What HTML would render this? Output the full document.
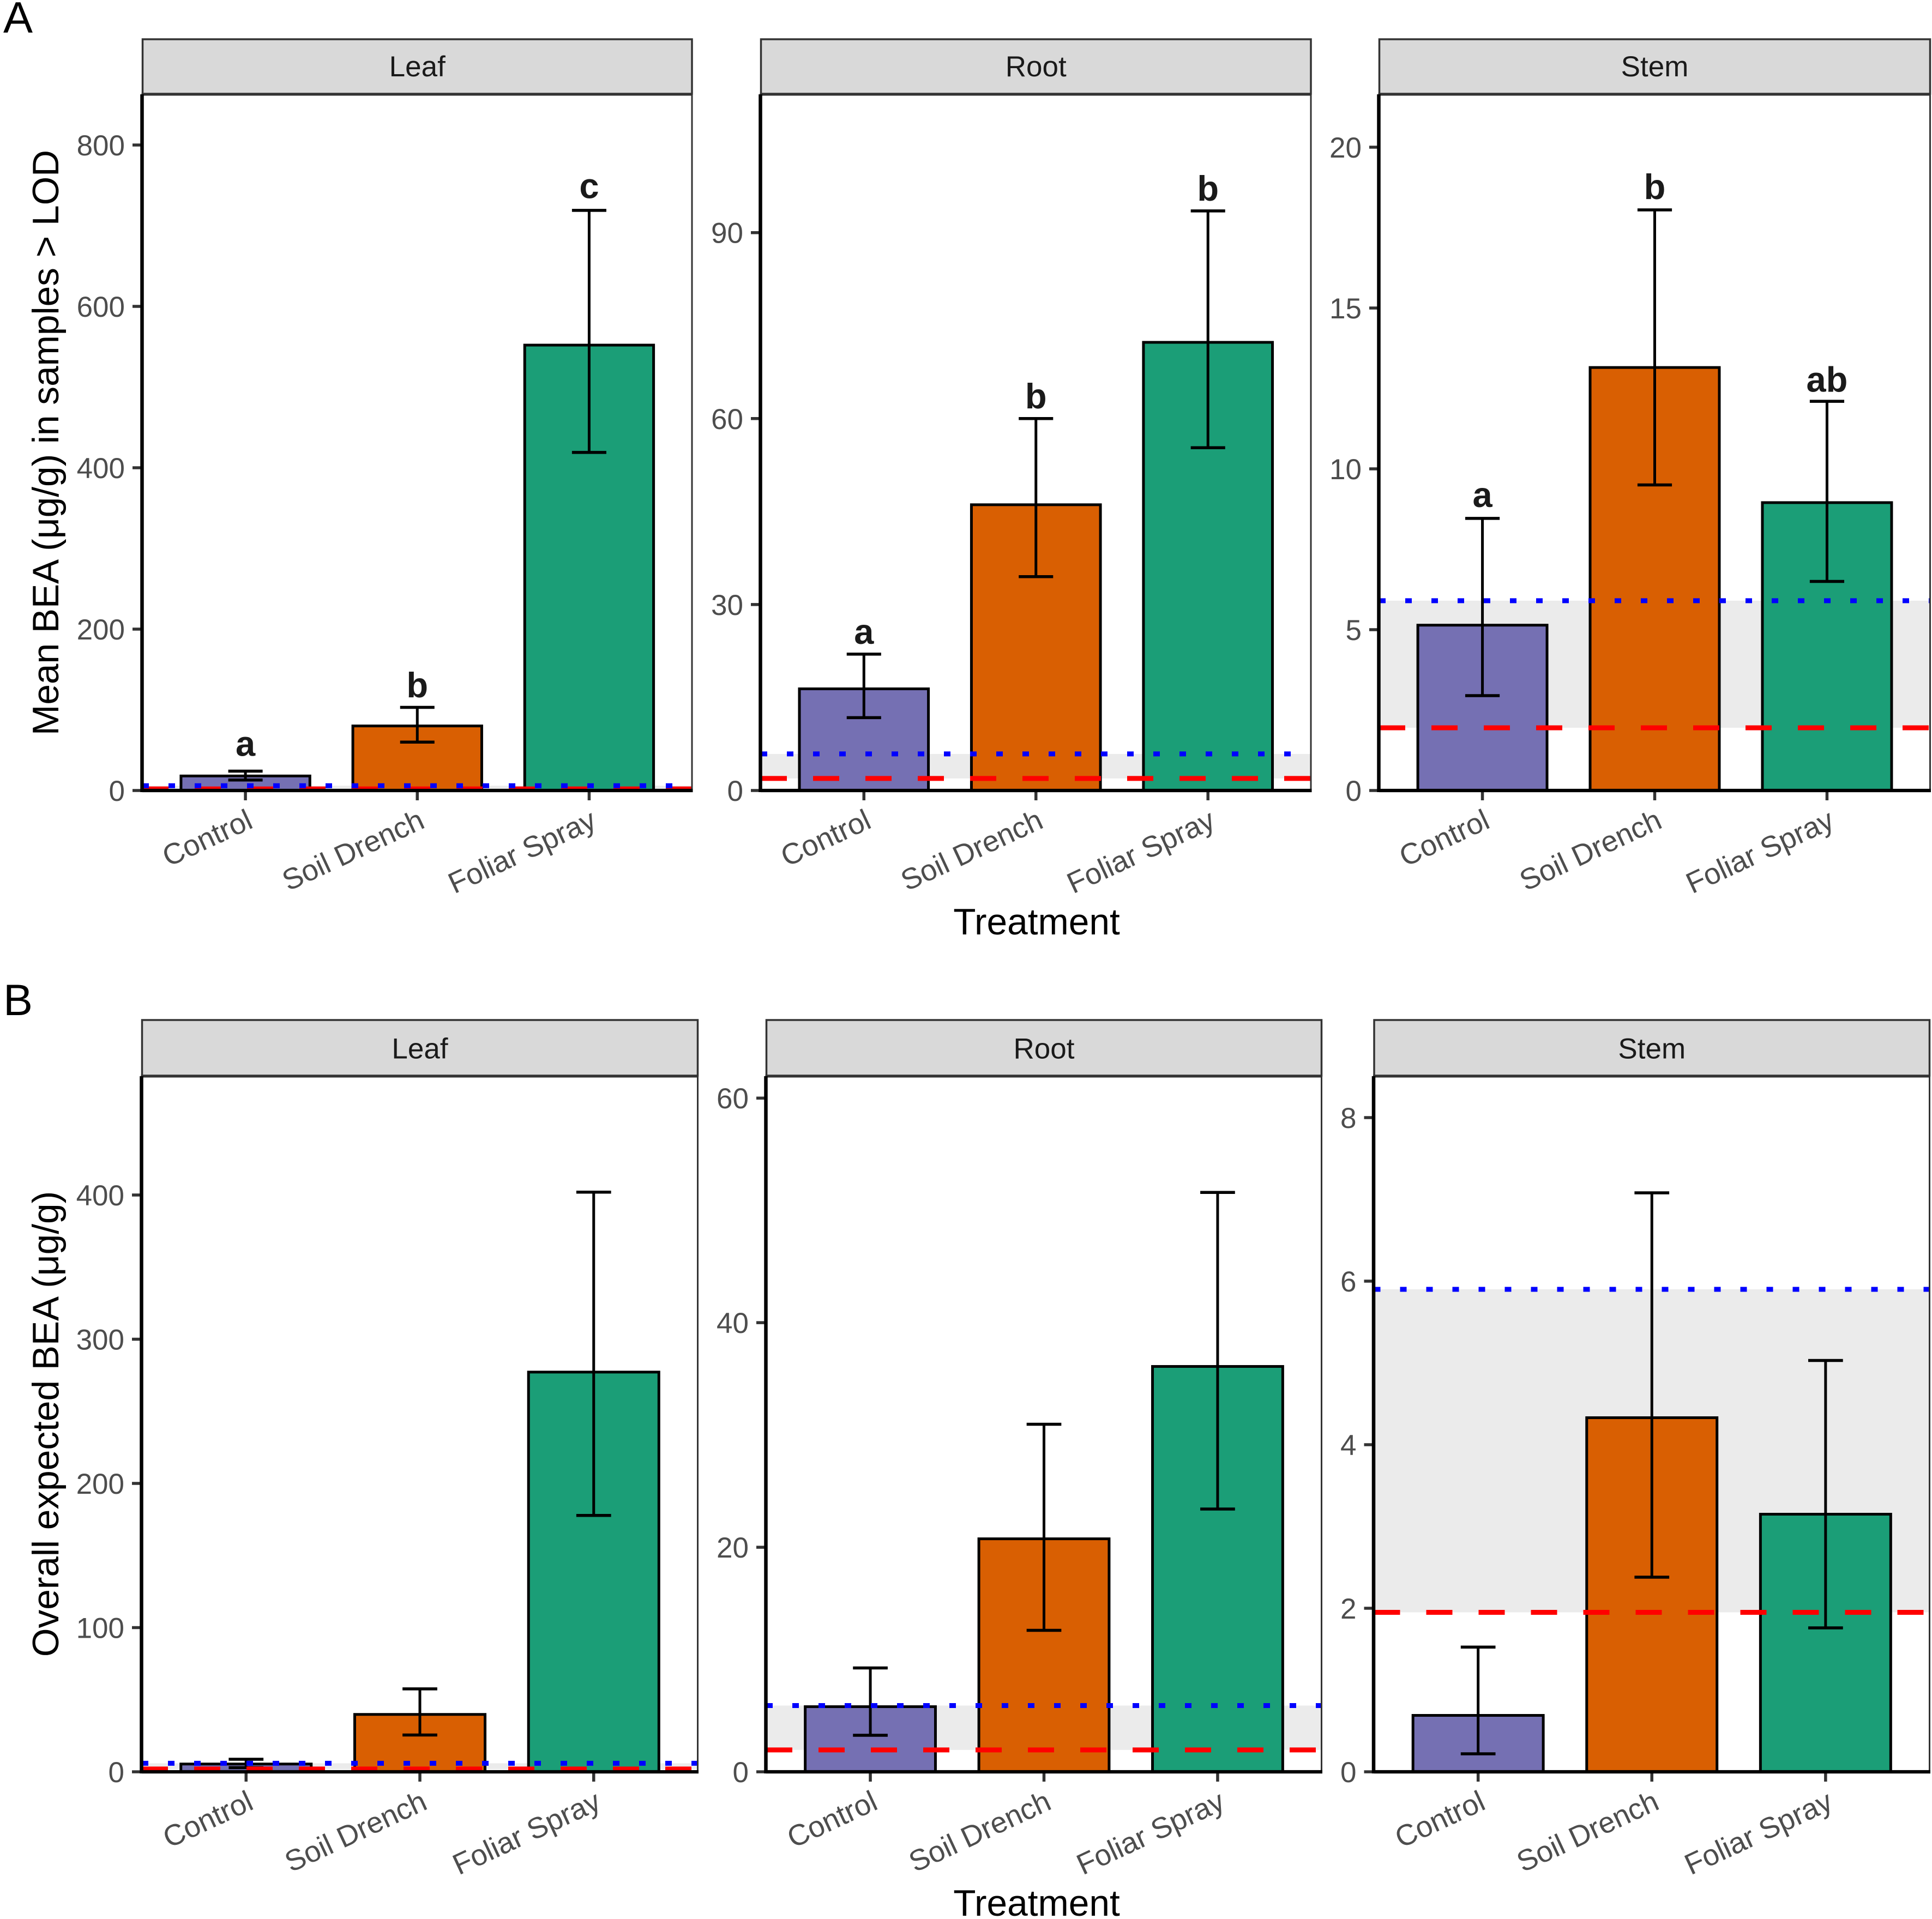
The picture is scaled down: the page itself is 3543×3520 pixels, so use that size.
<!DOCTYPE html>
<html lang="en">
<head>
<meta charset="utf-8">
<title>BEA concentration by treatment and tissue</title>
<style>
  html, body { margin: 0; padding: 0; background: #ffffff; }
  svg { display: block; font-family: "Liberation Sans", Arial, sans-serif; }
</style>
</head>
<body>
<svg id="figure" xmlns="http://www.w3.org/2000/svg" width="3543" height="3520" viewBox="0 0 3543 3520">
  <rect x="0" y="0" width="3543" height="3520" fill="#ffffff"/>
  <text x="6" y="60" font-size="81" fill="#000000">A</text>
  <text x="6" y="1862" font-size="81" fill="#000000">B</text>
  <text transform="translate(107,812) rotate(-90)" text-anchor="middle" font-size="67.6" fill="#000000">Mean BEA (μg/g) in samples &gt; LOD</text>
  <text transform="translate(107,2612) rotate(-90)" text-anchor="middle" font-size="67.6" fill="#000000">Overall expected BEA (μg/g)</text>
  <text x="1901" y="1714" text-anchor="middle" font-size="67.6" fill="#000000">Treatment</text>
  <text x="1901" y="3514" text-anchor="middle" font-size="67.6" fill="#000000">Treatment</text>
  <g id="panels"></g>
</svg>
<script>
// Shared categories and reference limits
const treatments = ['Control', 'Soil Drench', 'Foliar Spray'];
const barColors = ['#7570B3', '#D95F02', '#1B9E77'];
const lowerLimit = 1.95;
const upperLimit = 5.9;

// Row A - Leaf
const leafAMeans = [18, 80, 552];
const leafAUpper = [24, 103, 719];
const leafALower = [13, 60, 419];
const leafATicks = [0, 200, 400, 600, 800];
const leafALetters = ['a', 'b', 'c'];
const leafALetterValues = [43, 115.5, 734];
const leafADomainMax = 863.5;

// Row A - Root
const rootAMeans = [16.4, 46.1, 72.3];
const rootAUpper = [22, 60, 93.5];
const rootALower = [11.75, 34.5, 55.3];
const rootATicks = [0, 30, 60, 90];
const rootALetters = ['a', 'b', 'b'];
const rootALetterValues = [23.64, 61.64, 95.14];
const rootADomainMax = 112.4;

// Row A - Stem
const stemAMeans = [5.14, 13.15, 8.95];
const stemAUpper = [8.46, 18.05, 12.1];
const stemALower = [2.95, 9.5, 6.5];
const stemATicks = [0, 5, 10, 15, 20];
const stemALetters = ['a', 'b', 'ab'];
const stemALetterValues = [8.81, 18.385, 12.4];
const stemADomainMax = 21.66;

// Row B - Leaf
const leafBMeans = [5.4, 39.8, 277.2];
const leafBUpper = [8.7, 57.5, 402];
const leafBLower = [2.9, 25.5, 177.8];
const leafBTicks = [0, 100, 200, 300, 400];
const leafBDomainMax = 482.8;

// Row B - Root
const rootBMeans = [5.8, 20.75, 36.1];
const rootBUpper = [9.25, 30.95, 51.6];
const rootBLower = [3.25, 12.6, 23.4];
const rootBTicks = [0, 20, 40, 60];
const rootBDomainMax = 62;

// Row B - Stem
const stemBMeans = [0.69, 4.33, 3.15];
const stemBUpper = [1.525, 7.08, 5.03];
const stemBLower = [0.22, 2.38, 1.76];
const stemBTicks = [0, 2, 4, 6, 8];
const stemBDomainMax = 8.513;

const NS = 'http://www.w3.org/2000/svg';
const root = document.getElementById('panels');

function make(tag, parent) {
  const el = document.createElementNS(NS, tag);
  parent.appendChild(el);
  return el;
}
function setAll(el, props) {
  for (const k in props) el.setAttribute(k, props[k]);
  return el;
}

function drawPanel(p) {
  const xUnit = (p.right - p.left) / 3.2;
  const xScale = i => p.left + (i + 0.6) * xUnit;
  const yScale = v => p.bottom - (v / p.domainMax) * (p.bottom - p.top);

  const g = make('g', root);
  
  

  // limit band
  const band = make('rect', g);
  
  
  setAll(band, { x: p.left, width: p.right - p.left, y: yScale(upperLimit), height: yScale(lowerLimit) - yScale(upperLimit), fill: '#ebebeb' });

  // bars
  p.means.forEach((v, i) => {
    const bar = make('rect', g);
    
    
    setAll(bar, { x: xScale(i) - 0.375 * xUnit, width: 0.75 * xUnit, y: yScale(v), height: yScale(0) - yScale(v), fill: barColors[i], stroke: '#000000', 'stroke-width': 5 });
  });

  // error bars
  p.means.forEach((v, i) => {
    const eg = make('g', g);
    
    
    const stem = make('line', eg);
    
    
    setAll(stem, { x1: xScale(i), x2: xScale(i), y1: yScale(p.upper[i]), y2: yScale(p.lower[i]), stroke: '#000000', 'stroke-width': 5 });
    const capTop = make('line', eg);
    
    
    setAll(capTop, { x1: xScale(i) - 0.1 * xUnit, x2: xScale(i) + 0.1 * xUnit, y1: yScale(p.upper[i]), y2: yScale(p.upper[i]), stroke: '#000000', 'stroke-width': 5.5 });
    const capBottom = make('line', eg);
    
    
    setAll(capBottom, { x1: xScale(i) - 0.1 * xUnit, x2: xScale(i) + 0.1 * xUnit, y1: yScale(p.lower[i]), y2: yScale(p.lower[i]), stroke: '#000000', 'stroke-width': 5.5 });
  });

  // limit lines
  const redLine = make('line', g);
  
  
  setAll(redLine, { x1: p.left, x2: p.right, y1: yScale(lowerLimit), y2: yScale(lowerLimit), stroke: '#ff0000', 'stroke-width': 9, 'stroke-dasharray': '48 48' });
  const blueLine = make('line', g);
  
  
  setAll(blueLine, { x1: p.left, x2: p.right, y1: yScale(upperLimit), y2: yScale(upperLimit), stroke: '#0000ff', 'stroke-width': 9, 'stroke-dasharray': '12 36' });

  // significance letters
  if (p.letters) {
    p.letters.forEach((s, i) => {
      const t = make('text', g);
      
      
      setAll(t, { x: xScale(i), y: yScale(p.letterValues[i]), 'text-anchor': 'middle', 'font-size': 65, 'font-weight': 'bold', fill: '#1a1a1a' });
      t.textContent = s;
    });
  }

  // panel border
  const border = make('rect', g);
  
  
  setAll(border, { x: p.left, y: p.top, width: p.right - p.left - 0.5, height: p.bottom - p.top, fill: 'none', stroke: '#333333', 'stroke-width': 3 });

  // strip
  const strip = make('rect', g);
  
  
  setAll(strip, { x: p.left + 0.5, y: p.stripTop, width: p.right - p.left - 1, height: p.top - p.stripTop, fill: '#d9d9d9', stroke: '#333333', 'stroke-width': 3.5 });
  const stripRule = make('line', g);
  
  
  setAll(stripRule, { x1: p.left, x2: p.right + 1, y1: p.top + 1.5, y2: p.top + 1.5, stroke: '#333333', 'stroke-width': 4 });
  const stripLabel = make('text', g);
  
  
  setAll(stripLabel, { x: (p.left + p.right) / 2, y: p.stripLabelY, 'text-anchor': 'middle', 'font-size': 53, fill: '#1a1a1a' });
  stripLabel.textContent = p.title;

  // y ticks
  p.ticks.forEach(v => {
    const tick = make('line', g);
    
    
    setAll(tick, { x1: p.left - 18, x2: p.left, y1: yScale(v), y2: yScale(v), stroke: '#333333', 'stroke-width': 5.5 });
    const label = make('text', g);
    
    
    setAll(label, { x: p.left - 32, y: yScale(v) + 19, 'text-anchor': 'end', 'font-size': 53, fill: '#4d4d4d' });
    label.textContent = String(v);
  });

  // x ticks and labels
  treatments.forEach((name, i) => {
    const tick = make('line', g);
    
    
    setAll(tick, { x1: xScale(i), x2: xScale(i), y1: p.bottom, y2: p.bottom + 18, stroke: '#333333', 'stroke-width': 5.5 });
    const label = make('text', g);
    
    
    setAll(label, { transform: 'translate(' + (xScale(i) + 16.5) + ',' + (p.bottom + 67) + ') rotate(-25)', 'text-anchor': 'end', 'font-size': 54, fill: '#4d4d4d' });
    label.textContent = name;
  });

  // axis lines
  const yAxis = make('line', g);
  
  
  setAll(yAxis, { x1: p.left - 0.5, x2: p.left - 0.5, y1: p.top + 1, y2: p.bottom + 3, stroke: '#000000', 'stroke-width': 6.5 });
  const xAxis = make('line', g);
  
  
  setAll(xAxis, { x1: p.left, x2: p.right + 1, y1: p.bottom, y2: p.bottom, stroke: '#000000', 'stroke-width': 6.3 });
}

const rowA = { stripTop: 72, top: 172, bottom: 1450, stripLabelY: 140 };
const rowB = { stripTop: 1871, top: 1973, bottom: 3250, stripLabelY: 1941.5 };

drawPanel({ ...rowA, id: 'a-leaf', title: 'Leaf', left: 261, right: 1269.5, means: leafAMeans, upper: leafAUpper, lower: leafALower, ticks: leafATicks, domainMax: leafADomainMax, letters: leafALetters, letterValues: leafALetterValues });
drawPanel({ ...rowA, id: 'a-root', title: 'Root', left: 1395, right: 2404.5, means: rootAMeans, upper: rootAUpper, lower: rootALower, ticks: rootATicks, domainMax: rootADomainMax, letters: rootALetters, letterValues: rootALetterValues });
drawPanel({ ...rowA, id: 'a-stem', title: 'Stem', left: 2529, right: 3540, means: stemAMeans, upper: stemAUpper, lower: stemALower, ticks: stemATicks, domainMax: stemADomainMax, letters: stemALetters, letterValues: stemALetterValues });
drawPanel({ ...rowB, id: 'b-leaf', title: 'Leaf', left: 260, right: 1280, means: leafBMeans, upper: leafBUpper, lower: leafBLower, ticks: leafBTicks, domainMax: leafBDomainMax });
drawPanel({ ...rowB, id: 'b-root', title: 'Root', left: 1405, right: 2424, means: rootBMeans, upper: rootBUpper, lower: rootBLower, ticks: rootBTicks, domainMax: rootBDomainMax });
drawPanel({ ...rowB, id: 'b-stem', title: 'Stem', left: 2519.5, right: 3539, means: stemBMeans, upper: stemBUpper, lower: stemBLower, ticks: stemBTicks, domainMax: stemBDomainMax });
</script>
</body>
</html>
